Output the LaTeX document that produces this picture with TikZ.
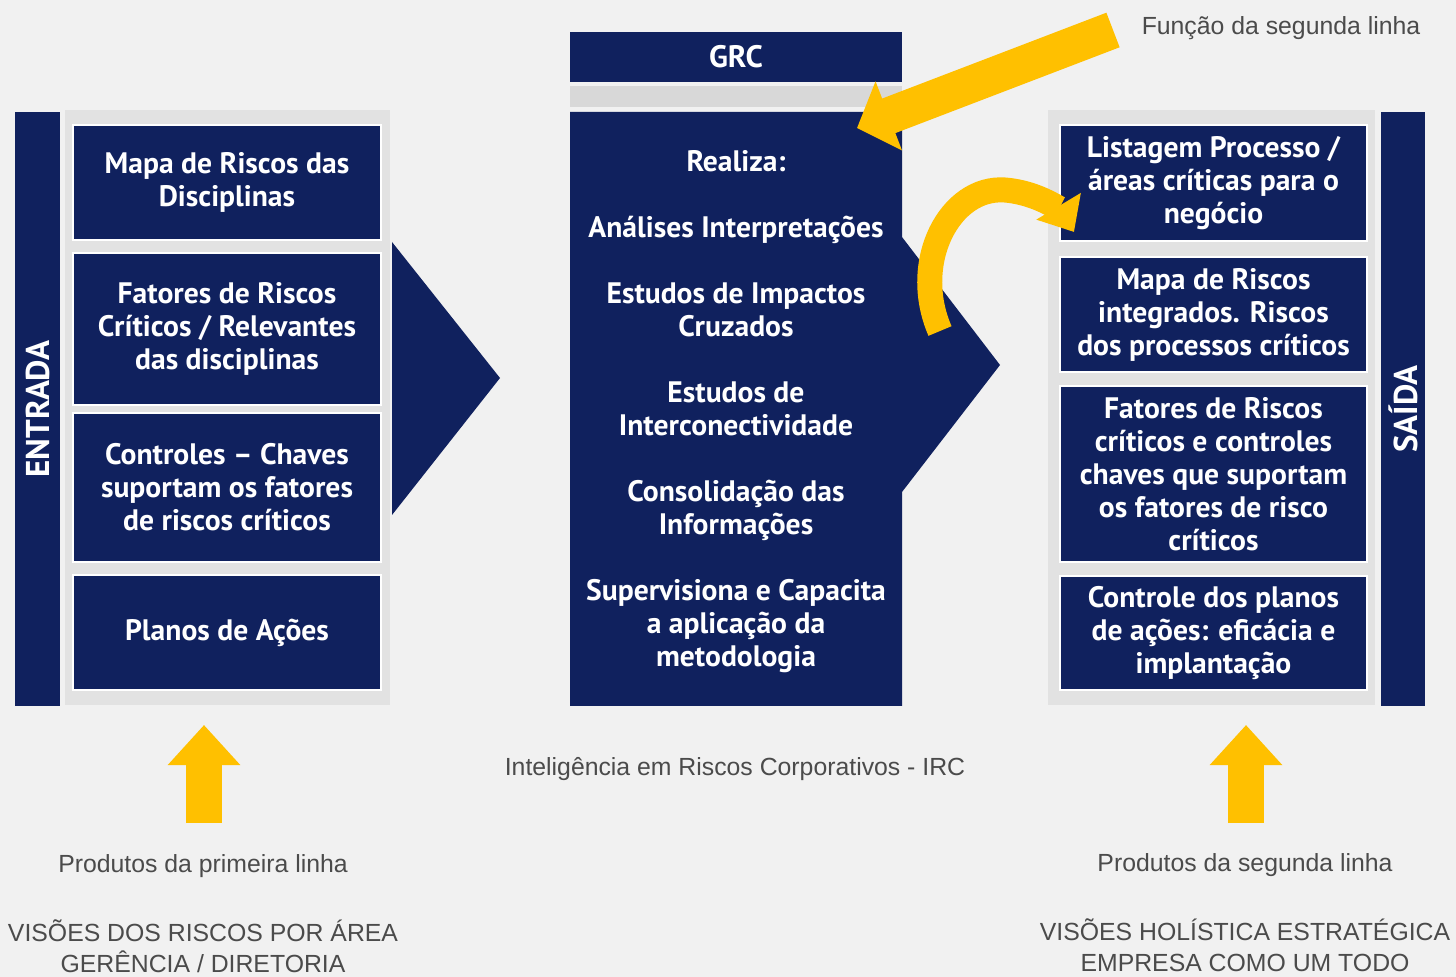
\documentclass[tikz,border=0pt]{standalone}
\usepackage{fontspec}
\setsansfont{PT Sans}
\newfontfamily\notefont{Liberation Sans}
\usetikzlibrary{positioning, arrows.meta}

\definecolor{navy}{HTML}{10215E}
\definecolor{gold}{HTML}{FFC000}
\definecolor{bggray}{HTML}{F1F1F1}
\definecolor{panelgray}{HTML}{E2E2E2}
\definecolor{stripgray}{HTML}{D8D8D8}
\definecolor{notegray}{HTML}{4B4B4B}

\tikzset{
	riskbox/.style={fill=navy, draw=white, line width=1pt, text=white, align=center, inner sep=0pt,
		font=\sffamily\bfseries\fontsize{14.8}{16.5}\selectfont},
	sidebar/.style={fill=navy, text=white, rotate=90, minimum width=297pt, minimum height=22.5pt,
		font=\sffamily\bfseries\fontsize{16.5}{18}\selectfont},
	note/.style={text=notegray, align=center, font=\notefont\fontsize{12.4}{15.5}\selectfont},
	goldarrow/.style={draw=gold, line width=#1},
}

\begin{document}
\begin{tikzpicture}[x=0.5pt, y=-0.5pt]
	\useasboundingbox (0,0) rectangle (1456,977);
	\fill[bggray] (0,0) rectangle (1456,977);

	% entrada
	\fill[panelgray] (65,110) rectangle (390,705);
	\node[sidebar] (entrada) at (37.5,409) {ENTRADA};
	\node[riskbox, minimum width=154pt, minimum height=57.5pt] (e1) at (227,182.5) {Mapa de Riscos das\\Disciplinas};
	\node[riskbox, minimum width=154pt, minimum height=76pt] (e2) at (227,329) {Fatores de Riscos\\Críticos / Relevantes\\das disciplinas};
	\node[riskbox, minimum width=154pt, minimum height=74.5pt] (e3) at (227,487.5) {Controles – Chaves\\suportam os fatores\\de riscos críticos};
	\node[riskbox, minimum width=154pt, minimum height=57.5pt] (e4) at (227,632.5) {Planos de Ações};
	\fill[navy] (392,242) -- (500,378) -- (392,515) -- cycle;

	% grc
	\node[riskbox, draw=none, minimum width=166pt, minimum height=25pt, font=\sffamily\bfseries\fontsize{15.5}{17}\selectfont] (grc) at (736,57) {GRC};
	\fill[stripgray] (570,86) rectangle (902,107);
	\fill[navy] (570,112) -- (902,112) -- (902,237) -- (1000,365) -- (902,492) -- (902,706) -- (570,706) -- cycle;
	\node[riskbox, draw=none, fill=none] (irc) at (736,412) {Realiza:\\[16.5pt]
		Análises Interpretações\\[16.5pt]
		Estudos de Impactos\\Cruzados\\[16.5pt]
		Estudos de\\Interconectividade\\[16.5pt]
		Consolidação das\\Informações\\[16.5pt]
		Supervisiona e Capacita\\a aplicação da\\metodologia};

	% saida
	\fill[panelgray] (1048,110) rectangle (1375,705);
	\node[sidebar, minimum height=22pt] (saida) at (1403,409) {SAÍDA};
	\node[riskbox, minimum width=153.5pt, minimum height=58pt] (s1) at (1213.5,183) {Listagem Processo /\\áreas críticas para o\\negócio};
	\node[riskbox, minimum width=153.5pt, minimum height=57.5pt] (s2) at (1213.5,314.5) {Mapa de Riscos\\integrados. Riscos\\dos processos críticos};
	\node[riskbox, minimum width=153.5pt, minimum height=88pt] (s3) at (1213.5,474) {Fatores de Riscos\\críticos e controles\\chaves que suportam\\os fatores de risco\\críticos};
	\node[riskbox, minimum width=153.5pt, minimum height=57pt] (s4) at (1213.5,633) {Controle dos planos\\de ações: eficácia e\\implantação};

	% notas
	\node[note] (funcao) at (1281,28) {Função da segunda linha};
	\node[note] (irc-name) at (735,769) {Inteligência em Riscos Corporativos - IRC};
	\node[note] (prod1) at (203,866) {Produtos da primeira linha};
	\node[note, below=14pt of prod1] (vis1) {VISÕES DOS RISCOS POR ÁREA\\GERÊNCIA / DIRETORIA};
	\node[note] (prod2) at (1245,865) {Produtos da segunda linha};
	\node[note, below=14pt of prod2] (vis2) {VISÕES HOLÍSTICA ESTRATÉGICA\\EMPRESA COMO UM TODO};

	% setas
	\coordinate (f-tail) at (1113,30);
	\coordinate (f-tip) at (857,128);
	\coordinate (c-tail) at (940,331);
	\coordinate (c-tip) at (1074,232);
	\coordinate (p1-base) at (204,823);
	\coordinate (p2-base) at (1246,823);
	\draw[goldarrow=18.5pt, -{Triangle[length=17pt, width=36pt]}] (f-tail) -- (f-tip);
	\draw[goldarrow=12.5pt, -{Triangle[length=15pt, width=25pt]}] (c-tail) .. controls (910,262) and (950,186) .. (1005,190) .. controls (1040,193) and (1062,212) .. (c-tip);
	\draw[goldarrow=18pt, -{Triangle[length=20pt, width=35pt]}] (p1-base) -- (204,725);
	\draw[goldarrow=18pt, -{Triangle[length=20pt, width=35pt]}] (p2-base) -- (1246,725);
\end{tikzpicture}
\end{document}
